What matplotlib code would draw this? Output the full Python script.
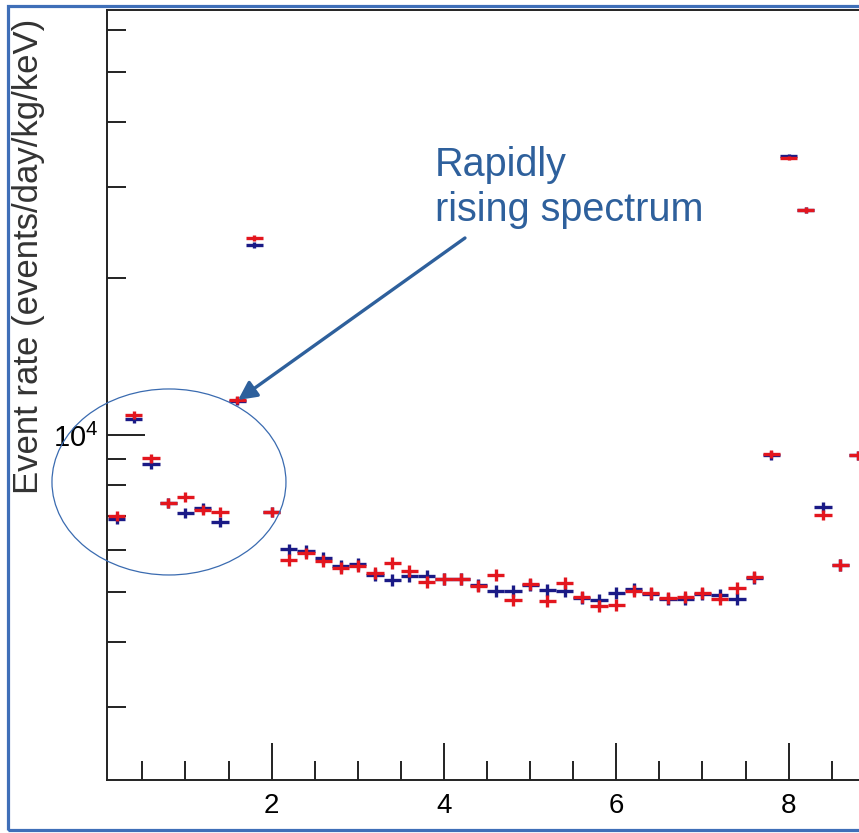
import numpy as np
import matplotlib
matplotlib.use("Agg")
import matplotlib.pyplot as plt
from matplotlib.patches import Ellipse, Rectangle
from matplotlib.ticker import LogLocator, NullFormatter, FixedLocator, FixedFormatter, MultipleLocator

plt.rcParams['font.family'] = ['Liberation Sans', 'DejaVu Sans']
plt.rcParams['mathtext.default'] = 'regular'

# energia (keV) no centro de cada bin
energia = [0.2, 0.4, 0.6, 0.8, 1.0, 1.2, 1.4, 1.6, 1.8, 2.0,
           2.2, 2.4, 2.6, 2.8, 3.0, 3.2, 3.4, 3.6, 3.8, 4.0,
           4.2, 4.4, 4.6, 4.8, 5.0, 5.2, 5.4, 5.6, 5.8, 6.0,
           6.2, 6.4, 6.6, 6.8, 7.0, 7.2, 7.4, 7.6, 7.8, 8.0,
           8.2, 8.4, 8.6, 8.8]

# taxa de eventos (events/day/kg/keV)
taxa_vermelho = [6990, 10930, 9030, 7400, 7600, 7180, 7110, 11680, 23920, 7110,
                 5750, 5930, 5725, 5550, 5600, 5430, 5675, 5480, 5215, 5290,
                 5290, 5125, 5380, 4815, 5170, 4795, 5190, 4880, 4690, 4710,
                 5010, 4965, 4860, 4880, 4965, 4840, 5080, 5335, 9195, 34100,
                 27080, 7020, 5620, 9150]

taxa_azul = [6895, 10735, 8795, 7400, 7080, 7240, 6805, 11625, 23190, 7110,
             6035, 5985, 5800, 5600, 5650, 5380, 5265, 5355, 5355, 5290,
             5290, 5145, 5010, 5010, 5145, 5035, 5010, 4860, 4815, 4965,
             5055, 4945, 4840, 4840, 4945, 4925, 4840, 5310, 9150, 34400,
             27080, 7270, 5620, 9150]

meia_largura_bin = 0.1
cor_vermelho = '#e3161e'
cor_azul = '#1a1a86'
cor_nota = '#2e609c'


def erro_estatistico(taxa):
    # erro tipo Poisson, escalado para a exposicao
    taxa = np.array(taxa, dtype=float)
    return np.sqrt(taxa * 3.6)


def main():
    fig = plt.figure(figsize=(8.59, 8.33), dpi=100)
    ax = fig.add_axes([0.1246, 0.0636, 0.954, 0.9244])

    ax.errorbar(energia, taxa_azul, xerr=meia_largura_bin, yerr=erro_estatistico(taxa_azul),
                fmt='none', ecolor=cor_azul, elinewidth=2.4, capsize=0)
    ax.errorbar(energia, taxa_vermelho, xerr=meia_largura_bin, yerr=erro_estatistico(taxa_vermelho),
                fmt='none', ecolor=cor_vermelho, elinewidth=2.4, capsize=0)

    ax.set_yscale('log')
    ax.set_xlim(0.09, 9.6)
    ax.set_ylim(2170, 65670)

    ax.xaxis.set_major_locator(FixedLocator([2, 4, 6, 8]))
    ax.xaxis.set_minor_locator(MultipleLocator(0.5))
    ax.yaxis.set_major_locator(FixedLocator([1e4]))
    ax.yaxis.set_major_formatter(FixedFormatter([r'$10^{4}$']))
    ax.yaxis.set_minor_locator(LogLocator(base=10, subs=range(2, 10)))
    ax.yaxis.set_minor_formatter(NullFormatter())

    ax.tick_params(which='both', direction='in', top=False, right=False, width=1.4, color='#222222')
    ax.tick_params(which='major', length=27, labelsize=20)
    ax.tick_params(which='minor', length=14)
    ax.tick_params(axis='x', which='major', pad=9)
    ax.tick_params(axis='y', which='major', pad=6, labelsize=21)

    for lado in ['left', 'bottom', 'top']:
        ax.spines[lado].set_linewidth(1.4)
        ax.spines[lado].set_color('#222222')
    ax.spines['right'].set_visible(False)

    fig.text(0.033, 0.692, 'Event rate (events/day/kg/keV)', rotation=90,
             ha='center', va='center', fontsize=25, color='#333333')

    # destaque da regiao de baixa energia
    elipse = Ellipse((0.1967, 0.4214), 0.2724, 0.2233, transform=fig.transFigure,
                     fill=False, edgecolor='#3a6bb0', linewidth=0.9)
    fig.patches.append(elipse)

    fig.text(0.5064, 0.825, 'Rapidly\nrising spectrum', ha='left', va='top',
             fontsize=28.5, color=cor_nota, linespacing=1.25)
    ax.annotate('', xy=(0.2771, 0.5198), xytext=(0.5413, 0.7143),
                xycoords='figure fraction', textcoords='figure fraction',
                arrowprops=dict(arrowstyle='-|>', color=cor_nota, lw=2.4,
                                mutation_scale=28, shrinkA=0, shrinkB=0))

    # moldura azul do slide
    moldura = Rectangle((0.0093, 0.0036), 1.2, 0.9892, transform=fig.transFigure,
                        fill=False, edgecolor='#3f6fb8', linewidth=2.3)
    fig.patches.append(moldura)

    fig.savefig('out.png', dpi=100)


if __name__ == "__main__":
    main()
